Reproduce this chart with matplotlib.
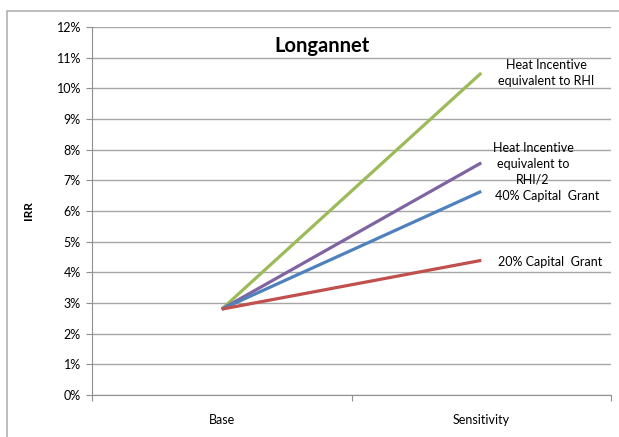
import matplotlib.pyplot as plt
from matplotlib.patches import Rectangle
from matplotlib.ticker import FixedLocator, PercentFormatter

categories = ['Base', 'Sensitivity']
rhi = [2.8, 10.5]
rhi_half = [2.8, 7.57]
grant_40 = [2.8, 6.64]
grant_20 = [2.8, 4.39]
y_ticks = list(range(0, 13))

series = [
    (rhi, '#9BBB59', 'Heat Incentive\nequivalent to RHI'),
    (rhi_half, '#8064A2', 'Heat Incentive\nequivalent to\nRHI/2'),
    (grant_40, '#4F81BD', '40% Capital  Grant'),
    (grant_20, '#C0504D', '20% Capital  Grant'),
]

plt.rcParams['font.family'] = ['Lato', 'DejaVu Sans']

fig = plt.figure(figsize=(6.19, 4.37), dpi=100)
fig.patches.append(Rectangle((7 / 619, -0.1), 1.2, 1 - 11 / 437 + 0.1,
                             transform=fig.transFigure, fill=False,
                             edgecolor='#b0b0b0', linewidth=1.2))
ax = fig.add_axes([92 / 619, 1 - 395 / 437, (611 - 92) / 619, (395 - 27) / 437])

x = list(range(len(categories)))
for vals, color, label in series:
    ax.plot(x, vals, color=color, linewidth=2.3, solid_capstyle='butt', zorder=3)

ax.set_xlim(-0.5, 1.5)
ax.set_ylim(0, 12)
ax.set_yticks(y_ticks)
ax.yaxis.set_major_formatter(PercentFormatter(decimals=0))
ax.yaxis.grid(True, color='#a6a6a6', linewidth=1)
ax.set_axisbelow(True)

ax.xaxis.set_major_locator(FixedLocator([-0.5, 0.5, 1.5]))
ax.xaxis.set_minor_locator(FixedLocator(x))
ax.set_xticklabels([])
ax.set_xticklabels(categories, minor=True)
ax.tick_params(axis='x', which='major', direction='out', length=4, color='#909090')
ax.tick_params(axis='x', which='minor', length=0, pad=14, labelsize=9)
ax.tick_params(axis='y', direction='out', length=4, color='#909090', labelsize=9, pad=4)

for side in ['top', 'right']:
    ax.spines[side].set_visible(False)
for side in ['left', 'bottom']:
    ax.spines[side].set_color('#909090')

ax.set_ylabel('IRR', fontsize=8.5, fontweight='bold', labelpad=16)

fig.text(322 / 619, 1 - 46 / 437, 'Longannet', ha='center', va='center',
         fontsize=14.5, fontweight='bold')

label_pos = [(546, 73), (533, 164), (547, 196), (550, 262)]
for (vals, color, label), (lx, ly) in zip(series, label_pos):
    fig.text(lx / 619, 1 - ly / 437, label, ha='center', va='center',
             fontsize=9, linespacing=1.4)

fig.savefig('out.png', dpi=100)
